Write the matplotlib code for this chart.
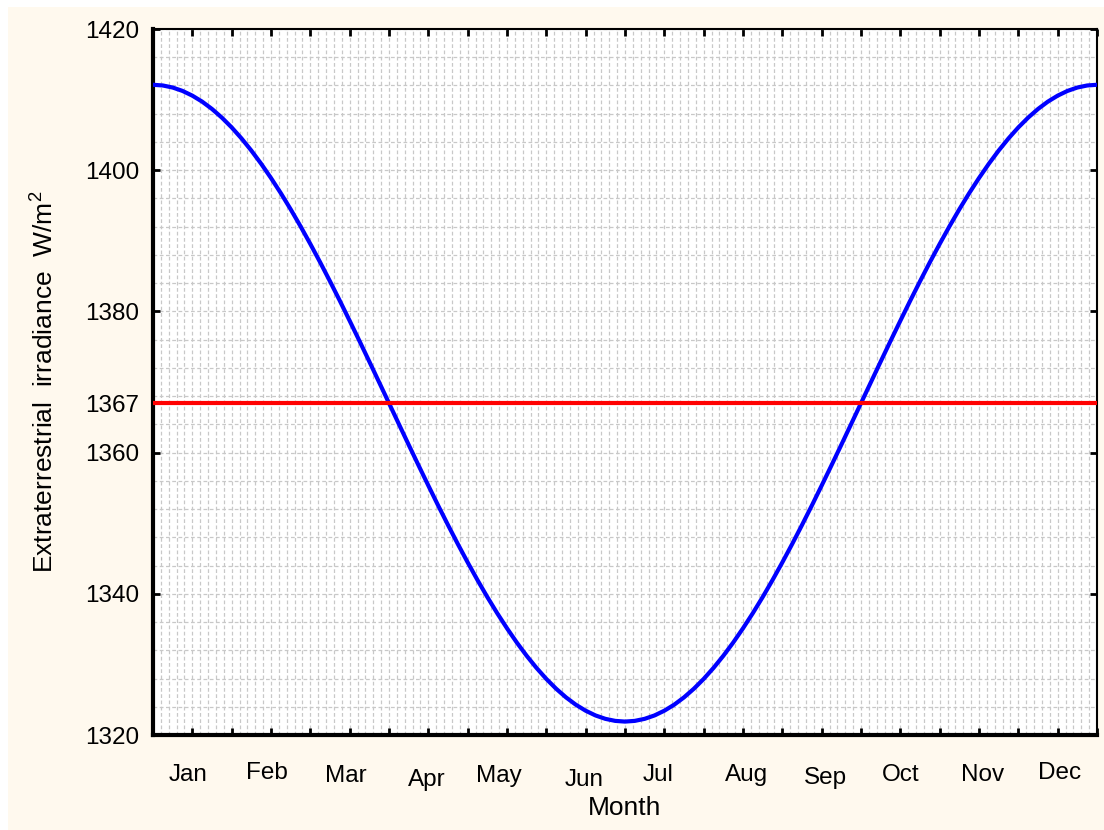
import matplotlib
matplotlib.use("Agg")
import matplotlib.pyplot as plt
from matplotlib.patches import Rectangle
from matplotlib.ticker import MultipleLocator

plt.rcParams["font.family"] = ["Liberation Sans", "DejaVu Sans"]
plt.rcParams["mathtext.fontset"] = "custom"
plt.rcParams["mathtext.rm"] = "Liberation Sans"
plt.rcParams["mathtext.it"] = "Liberation Sans"

# position along the year (0..24 half-month steps) and irradiance
position = [i * 0.25 for i in range(97)]
irradiance = [
    1412.10, 1412.00, 1411.71, 1411.23, 1410.56, 1409.71, 1408.67, 1407.45,
    1406.06, 1404.50, 1402.78, 1400.91, 1398.89, 1396.74, 1394.46, 1392.06,
    1389.55, 1386.95, 1384.26, 1381.50, 1378.67, 1375.80, 1372.89, 1369.95,
    1367.00, 1364.05, 1361.11, 1358.20, 1355.33, 1352.50, 1349.74, 1347.05,
    1344.45, 1341.94, 1339.54, 1337.26, 1335.11, 1333.09, 1331.22, 1329.50,
    1327.94, 1326.55, 1325.33, 1324.29, 1323.44, 1322.77, 1322.29, 1322.00,
    1321.90,
    1322.00, 1322.29, 1322.77, 1323.44, 1324.29, 1325.33, 1326.55, 1327.94,
    1329.50, 1331.22, 1333.09, 1335.11, 1337.26, 1339.54, 1341.94, 1344.45,
    1347.05, 1349.74, 1352.50, 1355.33, 1358.20, 1361.11, 1364.05, 1367.00,
    1369.95, 1372.89, 1375.80, 1378.67, 1381.50, 1384.26, 1386.95, 1389.55,
    1392.06, 1394.46, 1396.74, 1398.89, 1400.91, 1402.78, 1404.50, 1406.06,
    1407.45, 1408.67, 1409.71, 1410.56, 1411.23, 1411.71, 1412.00, 1412.10,
]
solar_constant = 1367

months = ["Jan", "Feb", "Mar", "Apr", "May", "Jun",
          "Jul", "Aug", "Sep", "Oct", "Nov", "Dec"]
month_pos = [0.9, 2.9, 4.9, 6.95, 8.8, 10.95, 12.85, 15.1, 17.1, 19.0, 21.1, 23.05]
month_drop = [40, 38, 41, 45, 41, 45, 40, 40, 43, 40, 40, 38]  # px below the axis
y_ticks = [1320, 1340, 1360, 1367, 1380, 1400, 1420]

fig = plt.figure(figsize=(11.04, 8.30), dpi=100, facecolor="white")
fig.patches.append(Rectangle((8 / 1104, 0), 1, 1 - 7 / 830, transform=fig.transFigure,
                             facecolor="#FFF9EE", edgecolor="none", zorder=-10))
ax = fig.add_axes([153 / 1104, 95 / 830, 944 / 1104, 706 / 830])
ax.set_facecolor("white")

ax.plot(position, irradiance, color="#0000FF", lw=3, zorder=3)
ax.axhline(solar_constant, color="#FF0000", lw=3, zorder=3)

ax.set_xlim(0, 24)
ax.set_ylim(1320, 1420)
ax.xaxis.set_major_locator(MultipleLocator(1))
ax.xaxis.set_minor_locator(MultipleLocator(0.2))
ax.set_yticks(y_ticks)
ax.yaxis.set_minor_locator(MultipleLocator(4))
ax.set_xticklabels([])
ax.tick_params(axis="both", which="major", direction="in", length=5, width=2,
               top=True, right=True, labelsize=17.5, pad=10)
ax.tick_params(axis="both", which="minor", length=0)
ax.grid(True, which="both", color="#C8C8C8", linestyle=(0, (3, 2)), lw=0.9, zorder=0)

for side in ["left", "bottom"]:
    ax.spines[side].set_linewidth(3)
for side in ["top", "right"]:
    ax.spines[side].set_linewidth(1.5)

for m, x, d in zip(months, month_pos, month_drop):
    ax.annotate(m, xy=(x, 0), xycoords=("data", "axes fraction"),
                xytext=(0, -d * 0.72), textcoords="offset points",
                ha="center", va="center", fontsize=17.5)

ax.set_xlabel("Month", fontsize=19, va="center")
ax.xaxis.set_label_coords(0.5, -0.1034)
ax.set_ylabel("Extraterrestrial  irradiance  W/m$^2$", fontsize=19, va="center")
ax.yaxis.set_label_coords(-0.1144, 0.5)

fig.savefig("out.png", dpi=100, facecolor=fig.get_facecolor())
